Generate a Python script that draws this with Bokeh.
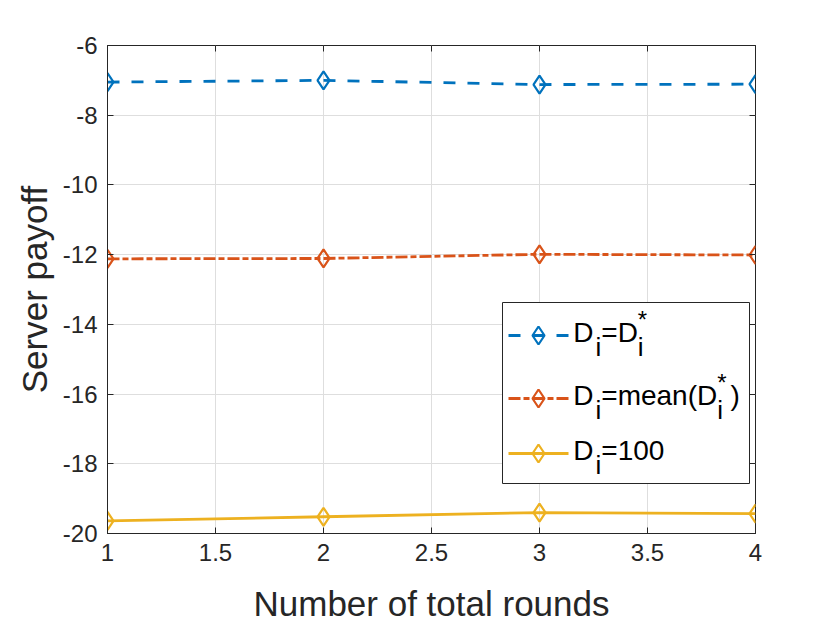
from bokeh.plotting import figure
from bokeh.models import Range1d, LinearAxis, FixedTicker
from bokeh.core.properties import value
from bokeh.embed import file_html
from bokeh.resources import INLINE

# ---------------- data ----------------
rounds = [1, 2, 3, 4]
payoff_opt = [-7.05, -7.00, -7.12, -7.11]      # D_i = D_i^*
payoff_mean = [-12.12, -12.11, -11.99, -12.01]  # D_i = mean(D_i^*)
payoff_100 = [-19.64, -19.52, -19.40, -19.43]   # D_i = 100

x_ticks = [1, 1.5, 2, 2.5, 3, 3.5, 4]
x_tick_labels = ["1", "1.5", "2", "2.5", "3", "3.5", "4"]
y_ticks = [-20, -18, -16, -14, -12, -10, -8, -6]
y_tick_labels = ["-20", "-18", "-16", "-14", "-12", "-10", "-8", "-6"]

x_label = "Number of total rounds"
y_label = "Server payoff"

# ---------------- style ----------------
FONT = "Liberation Sans"
DARK = "#262626"
BLUE = "#0072BD"
ORANGE = "#D95319"
YELLOW = "#EDB120"
FW, FH = 648, 488

p = figure(
    frame_width=FW, frame_height=FH,
    x_range=Range1d(1, 4), y_range=Range1d(-20, -6),
    min_border_left=107, min_border_right=60, min_border_top=45, min_border_bottom=88,
    output_backend="svg", toolbar_location=None,
    background_fill_color="white", border_fill_color="white",
)
p.outline_line_color = DARK
p.outline_line_width = 1

for ax in (p.xaxis[0], p.yaxis[0]):
    ax.major_label_text_font = FONT
    ax.major_label_text_font_size = "24px"
    ax.major_label_text_color = DARK
    ax.axis_label_text_font = FONT
    ax.axis_label_text_font_size = "35px"
    ax.axis_label_text_font_style = "normal"
    ax.axis_label_text_color = DARK
    ax.axis_line_color = DARK
    ax.major_tick_line_color = DARK
    ax.major_tick_in = 6
    ax.major_tick_out = 0
    ax.minor_tick_line_color = None

p.xaxis[0].ticker = FixedTicker(ticks=x_ticks)
p.xaxis[0].major_label_overrides = {t: l for t, l in zip(x_ticks, x_tick_labels)}
p.xaxis[0].axis_label = x_label
p.xaxis[0].major_label_standoff = 10
p.xaxis[0].axis_label_standoff = 20

p.yaxis[0].ticker = FixedTicker(ticks=y_ticks)
p.yaxis[0].major_label_overrides = {t: l for t, l in zip(y_ticks, y_tick_labels)}
p.yaxis[0].axis_label = y_label
p.yaxis[0].major_label_standoff = 10
p.yaxis[0].axis_label_standoff = 6

# top & right axes: ticks only
top = LinearAxis(ticker=FixedTicker(ticks=x_ticks),
                 major_label_overrides={t: "" for t in x_ticks})
right = LinearAxis(ticker=FixedTicker(ticks=y_ticks),
                   major_label_overrides={t: "" for t in y_ticks})
for ax in (top, right):
    ax.axis_line_color = None
    ax.major_tick_line_color = DARK
    ax.major_tick_in = 6
    ax.major_tick_out = 0
    ax.minor_tick_line_color = None
    ax.major_label_text_font_size = "1px"
    ax.major_label_standoff = 0
p.add_layout(top, "above")
p.add_layout(right, "right")

p.xgrid.ticker = FixedTicker(ticks=x_ticks)
p.ygrid.ticker = FixedTicker(ticks=y_ticks)
p.grid.grid_line_color = "#dedede"
p.grid.grid_line_width = 1

# ---------------- series ----------------
series = [
    (payoff_opt, BLUE, "12 12"),
    (payoff_mean, ORANGE, "12 3 6 3"),
    (payoff_100, YELLOW, "solid"),
]
for vals, col, dash in series:
    p.line(rounds, vals, line_color=col, line_width=2.8, line_dash=dash)
    p.scatter(rounds, vals, marker="diamond", size=18, fill_color=None,
              line_color=col, line_width=2.2)

# ---------------- legend (drawn in frame pixel coordinates) ----------------
p.extra_x_ranges = {"lx": Range1d(0, FW)}
p.extra_y_ranges = {"ly": Range1d(0, FH)}
L = dict(x_range_name="lx", y_range_name="ly")

p.quad(left=395, right=642, bottom=50, top=231, fill_color="white",
       line_color=DARK, line_width=1, **L)

ADV = {"D": 722, "i": 222, "=": 584, "m": 833, "e": 556, "a": 556, "n": 556,
       "(": 333, ")": 333, "1": 556, "0": 556, "*": 389}
MAIN, SUB, SUP = 28, 26, 24
TEXT_SHIFT = 13  # compensates the glyph's rendered baseline


def adv(s, size):
    return sum(ADV[c] for c in s) * size / 1000.0


rows = [
    (198, BLUE, "12 12", [("n", "D"), ("sub", "i"), ("n", "=D"), ("subsup", "i", "*")]),
    (135, ORANGE, "12 3 6 3", [("n", "D"), ("sub", "i"), ("n", "=mean(D"),
                                ("subsup", "i", "*"), ("n", ")")]),
    (80, YELLOW, "solid", [("n", "D"), ("sub", "i"), ("n", "=100")]),
]

mx, my, mt = [], [], []
sx, sy, st = [], [], []
ux, uy, ut = [], [], []
for yc, col, dash, pieces in rows:
    p.line(x=[401, 461], y=[yc, yc], line_color=col, line_width=2.8,
           line_dash=dash, **L)
    p.scatter(x=[431], y=[yc], marker="diamond", size=18, fill_color=None,
              line_color=col, line_width=2.2, **L)
    base = yc - 9.5 + TEXT_SHIFT
    x = 465.8
    for pc in pieces:
        if pc[0] == "n":
            mx.append(x); my.append(base); mt.append(pc[1])
            x += adv(pc[1], MAIN)
        elif pc[0] == "sub":
            x += 2
            sx.append(x); sy.append(base - 15); st.append(pc[1])
            x += adv(pc[1], SUB)
        else:
            sx.append(x); sy.append(base - 15); st.append(pc[1])
            ux.append(x); uy.append(base + 13); ut.append(pc[2])
            x += max(adv(pc[1], SUB), adv(pc[2], SUP)) + 4

p.text(x=mx, y=my, text=mt, text_font=value(FONT), text_font_size="28px",
       text_color="black", text_baseline="alphabetic", text_align="left", **L)
p.text(x=sx, y=sy, text=st, text_font=value(FONT), text_font_size="26px",
       text_color="black", text_baseline="alphabetic", text_align="left", **L)
p.text(x=ux, y=uy, text=ut, text_font=value(FONT), text_font_size="24px",
       text_color="black", text_baseline="alphabetic", text_align="left", **L)

open("out.html", "w").write(file_html(p, INLINE))
